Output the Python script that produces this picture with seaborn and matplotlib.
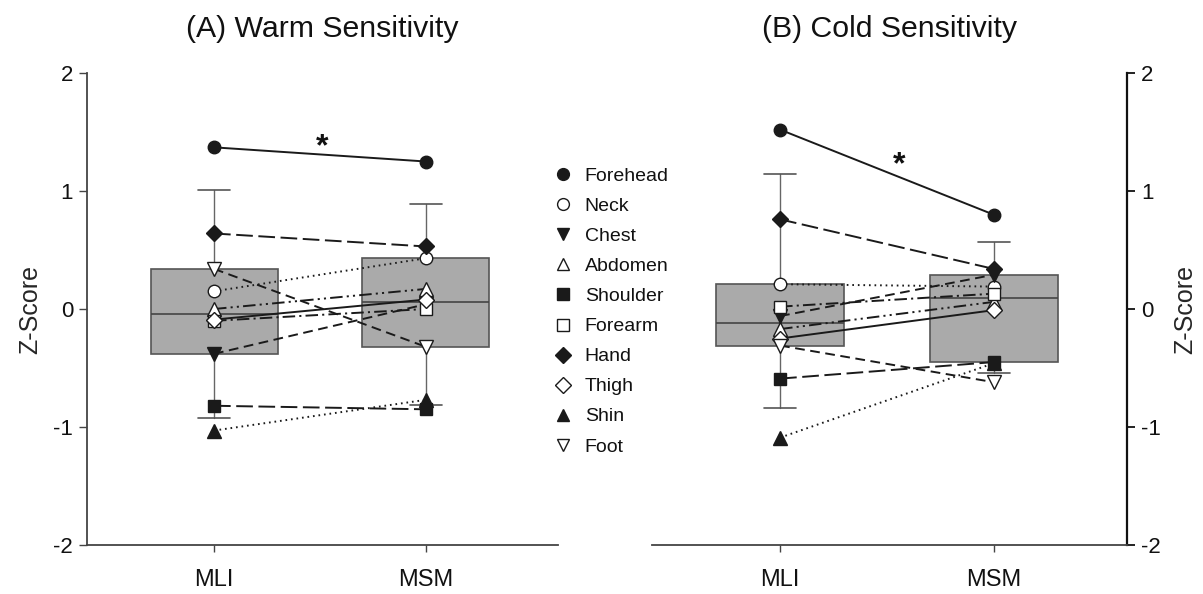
import numpy as np
import pandas as pd
import matplotlib
matplotlib.use("Agg")
import matplotlib.pyplot as plt
from matplotlib.lines import Line2D
import seaborn as sns

# ---------------- data ----------------
sites = ["Forehead", "Neck", "Chest", "Abdomen", "Shoulder",
         "Forearm", "Hand", "Thigh", "Shin", "Foot"]
conditions = ["MLI", "MSM"]
warm_mli = [1.37, 0.15, -0.38, 0.00, -0.82, -0.10, 0.64, -0.09, -1.03, 0.34]
warm_msm = [1.25, 0.43, 0.04, 0.17, -0.85, 0.00, 0.53, 0.08, -0.77, -0.32]
cold_mli = [1.52, 0.21, -0.06, -0.17, -0.59, 0.02, 0.76, -0.25, -1.09, -0.31]
cold_msm = [0.80, 0.19, 0.29, 0.06, -0.45, 0.13, 0.34, -0.01, -0.46, -0.62]
yticks = [-2, -1, 0, 1, 2]
titles = ["(A) Warm Sensitivity", "(B) Cold Sensitivity"]

# ---------------- styles ----------------
markers = ["o", "o", "v", "^", "s", "s", "D", "D", "^", "v"]
fills = ["k", "w", "k", "w", "k", "w", "k", "w", "k", "w"]
msizes = [9, 9, 9.5, 9.5, 8.5, 8.5, 8.5, 8.5, 9.5, 9.5]
solid = "-"
dotted = (0, (1.2, 2.8))
mdash = (0, (7, 4))
ldash = (0, (12, 4))
dashdot = (0, (9, 3, 1.5, 3))
dashdotdot = (0, (9, 3, 1.5, 3, 1.5, 3))
line_styles = [solid, dotted, mdash, dashdotdot, ldash,
               dashdot, ldash, solid, dotted, mdash]

sns.set_theme(style="white")
plt.rcParams["font.family"] = ["Liberation Sans", "DejaVu Sans"]
plt.rcParams["lines.scale_dashes"] = False
plt.rcParams["text.color"] = "#111111"
plt.rcParams["xtick.color"] = "#111111"
plt.rcParams["ytick.color"] = "#111111"

W, H = 1203, 594
fig = plt.figure(figsize=(W / 100, H / 100), dpi=100)
axA = fig.add_axes([87 / W, 1 - 545 / H, 471 / W, 472 / H])
axB = fig.add_axes([652 / W, 1 - 545 / H, 475 / W, 472 / H])


def draw_panel(ax, mli, msm, title, side):
    stats = []
    for v, lab in zip([np.asarray(mli), np.asarray(msm)], conditions):
        q1, med, q3 = np.percentile(v, [25, 50, 75], method="averaged_inverted_cdf")
        lo, hi = np.percentile(v, [10, 90], method="averaged_inverted_cdf")
        stats.append(dict(med=med, q1=q1, q3=q3, whislo=lo, whishi=hi,
                          fliers=[], label=lab))
    ax.bxp(stats, positions=[0, 1], widths=0.6, capwidths=0.15,
           patch_artist=True, showfliers=False,
           boxprops=dict(facecolor="#aaaaaa", edgecolor="#555555", linewidth=1.2),
           medianprops=dict(color="#444444", linewidth=1.2),
           whiskerprops=dict(color="#666666", linewidth=1.0),
           capprops=dict(color="#555555", linewidth=1.2))
    for i in range(len(sites)):
        sns.lineplot(x=[0, 1], y=[mli[i], msm[i]], ax=ax, color="k",
                     linewidth=1.4, linestyle=line_styles[i],
                     errorbar=None, zorder=3)
    for i in range(len(sites)):
        ax.plot([0, 1], [mli[i], msm[i]], ls="none", marker=markers[i],
                ms=msizes[i], mfc=fills[i], mec="k", mew=1.0, zorder=4)

    ax.set_xlim(-0.6, 1.625)
    ax.set_ylim(-2, 2)
    ax.set_xticks([0, 1])
    ax.set_xticklabels(conditions, fontsize=17)
    ax.set_yticks(yticks)
    ax.set_yticklabels([str(t) for t in yticks], fontsize=16)
    ax.set_title(title, fontsize=21.8, pad=26)
    ax.tick_params(axis="x", length=5, width=1.0, color="#444444", pad=12,
                   bottom=True)
    for s in ["top", "left", "right", "bottom"]:
        ax.spines[s].set_visible(False)
    ax.spines["bottom"].set_visible(True)
    ax.spines["bottom"].set_color("#444444")
    ax.spines["bottom"].set_linewidth(1.3)
    if side == "left":
        ax.spines["left"].set_visible(True)
        ax.spines["left"].set_color("#444444")
        ax.spines["left"].set_linewidth(1.3)
        ax.tick_params(axis="y", left=True, right=False, length=6, width=1.0,
                       color="#444444", pad=4)
        ax.set_ylabel("Z-Score", fontsize=18, labelpad=8)
    else:
        ax.spines["right"].set_visible(True)
        ax.spines["right"].set_color("#111111")
        ax.spines["right"].set_linewidth(1.6)
        ax.yaxis.tick_right()
        ax.yaxis.set_label_position("right")
        ax.tick_params(axis="y", left=False, right=True, length=6, width=1.3,
                       color="#111111", pad=4)
        ax.set_ylabel("Z-Score", fontsize=18, labelpad=9)
    ax.set_xlabel("")
    ax.grid(False)


draw_panel(axA, warm_mli, warm_msm, titles[0], "left")
draw_panel(axB, cold_mli, cold_msm, titles[1], "right")

axA.text(0.51, 1.37, "*", ha="center", va="center", fontsize=23,
         fontweight="bold", zorder=5)
axB.text(0.56, 1.22, "*", ha="center", va="center", fontsize=23,
         fontweight="bold", zorder=5)

handles = [Line2D([], [], ls="none", marker=markers[i], ms=msizes[i] - 0.5,
                  mfc=fills[i], mec="k", mew=1.0) for i in range(len(sites))]
fig.legend(handles, sites, loc="center left",
           bbox_to_anchor=(553 / W, 1 - 311.5 / H), frameon=False,
           fontsize=14, handlelength=1.0, handletextpad=0.63,
           labelspacing=0.64, borderpad=0, borderaxespad=0)

fig.savefig("out.png", dpi=100)
